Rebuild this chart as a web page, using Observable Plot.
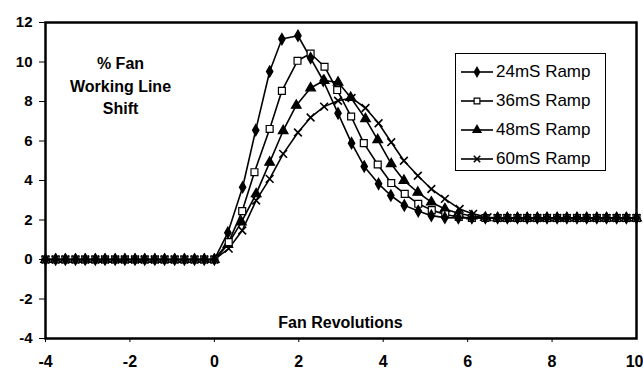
<!DOCTYPE html>
<html>
<head>
<meta charset="utf-8">
<script src="https://cdn.jsdelivr.net/npm/d3@7"></script>
<script src="https://cdn.jsdelivr.net/npm/@observablehq/plot@0.6"></script>
<style>
  body { margin: 0; background: #fff; }
  #wrap { position: relative; width: 643px; height: 380px; font-family: "Liberation Sans", Arial, sans-serif; }
  #legend { position: absolute; left: 455px; top: 53px; width: 151px; height: 118px; border: 1px solid #000; background: #fff; box-sizing: border-box; padding-top: 4px; }
  .row { display: flex; align-items: center; height: 28.8px; font-size: 17px; color: #000; }
  .row svg { margin-left: 4px; margin-right: 2px; }
</style>
</head>
<body>
<div id="wrap"></div>
<script>
// Pre-ramp points (shared by all series)
const preX = [-4, -3.76, -3.53, -3.29, -3.06, -2.82, -2.59, -2.35, -2.12, -1.88, -1.65, -1.41, -1.18, -0.94, -0.71, -0.47, -0.24];
const preY = [0, 0, 0, 0, 0, 0, 0, 0, 0, 0, 0, 0, 0, 0, 0, 0, 0];

// Settled tail (shared)
const tailX = [6.71, 6.94, 7.18, 7.41, 7.65, 7.88, 8.12, 8.35, 8.59, 8.82, 9.06, 9.29, 9.53, 9.76, 10];
const tailY = [2.1, 2.1, 2.1, 2.1, 2.1, 2.1, 2.1, 2.1, 2.1, 2.1, 2.1, 2.1, 2.1, 2.1, 2.1];

// 24mS Ramp
const x24 = [0, 0.32, 0.67, 0.98, 1.31, 1.6, 1.98, 2.28, 2.58, 2.93, 3.25, 3.55, 3.89, 4.18, 4.5, 4.83, 5.14, 5.46, 5.78, 6.1, 6.42];
const y24 = [0, 1.36, 3.66, 6.55, 9.52, 11.16, 11.33, 10.2, 9.05, 7.4, 5.89, 4.71, 3.83, 3.24, 2.74, 2.45, 2.22, 2.12, 2.1, 2.1, 2.1];
// 36mS Ramp
const x36 = [0, 0.34, 0.66, 0.95, 1.31, 1.6, 1.97, 2.28, 2.61, 2.91, 3.24, 3.54, 3.87, 4.19, 4.51, 4.83, 5.15, 5.47, 5.79, 6.1, 6.42];
const y36 = [0, 0.88, 2.45, 4.42, 6.61, 8.54, 10.06, 10.43, 9.76, 8.58, 7.24, 5.89, 4.81, 3.87, 3.32, 2.82, 2.5, 2.28, 2.15, 2.1, 2.1];
// 48mS Ramp
const x48 = [0, 0.32, 0.64, 0.99, 1.31, 1.63, 1.94, 2.28, 2.6, 2.93, 3.23, 3.58, 3.87, 4.19, 4.49, 4.82, 5.14, 5.46, 5.78, 6.1, 6.42];
const y48 = [0, 0.75, 1.89, 3.32, 4.92, 6.52, 7.8, 8.68, 9.06, 8.97, 8.2, 7.12, 6.06, 4.84, 4.0, 3.4, 2.9, 2.56, 2.34, 2.2, 2.12];
// 60mS Ramp
const x60 = [0, 0.34, 0.66, 0.99, 1.31, 1.63, 1.98, 2.28, 2.6, 2.93, 3.25, 3.58, 3.89, 4.19, 4.49, 4.82, 5.14, 5.46, 5.81, 6.13, 6.47];
const y60 = [0, 0.55, 1.47, 2.99, 4.08, 5.35, 6.43, 7.19, 7.74, 8.04, 8.18, 7.67, 6.9, 5.94, 5.0, 4.24, 3.57, 3.07, 2.56, 2.31, 2.14];

const seriesNames = ["24mS Ramp", "36mS Ramp", "48mS Ramp", "60mS Ramp"];
const xTicks = [-4, -2, 0, 2, 4, 6, 8, 10];
const yTicks = [-4, -2, 0, 2, 4, 6, 8, 10, 12];
const yLabel = "% Fan\nWorking Line\nShift";
const xLabel = "Fan Revolutions";

const symbols = {
  "24mS Ramp": {symbol: "diamond", fill: "black", r: 3.4},
  "36mS Ramp": {symbol: "square", fill: "white", r: 3.9},
  "48mS Ramp": {symbol: "triangle", fill: "black", r: 3.6},
  "60mS Ramp": {symbol: "times", fill: "none", r: 3.6}
};

const raw = [[x24, y24], [x36, y36], [x48, y48], [x60, y60]];
const data = [];
raw.forEach(([xs, ys], i) => {
  const s = seriesNames[i];
  preX.forEach((x, j) => data.push({series: s, x, y: preY[j]}));
  xs.forEach((x, j) => data.push({series: s, x, y: ys[j]}));
  tailX.forEach((x, j) => data.push({series: s, x, y: tailY[j]}));
});

const font = "'Liberation Sans', Arial, sans-serif";
const lastTick = xTicks[xTicks.length - 1];
const marks = [
  Plot.frame({stroke: "black", strokeWidth: 2.5}),
  Plot.axisY({ticks: yTicks, tickSize: 6, tickPadding: 7, tickFormat: d => String(d), fontSize: 15, fontWeight: "bold", label: null}),
  Plot.axisX({ticks: xTicks.slice(0, -1), tickSize: 4, tickPadding: 13, tickFormat: d => String(d), fontSize: 16, fontWeight: "bold", label: null}),
  Plot.axisX({ticks: [lastTick], tickSize: 4, tickPadding: 13, tickFormat: d => String(d), fontSize: 16, fontWeight: "bold", label: null, textAnchor: "end", dx: 7}),
  Plot.line(data, {x: "x", y: "y", z: "series", stroke: "black", strokeWidth: 1.6})
];
seriesNames.slice().reverse().forEach(s => {
  const sy = symbols[s];
  marks.push(Plot.dot(data.filter(d => d.series === s), {
    x: "x", y: "y", symbol: sy.symbol, r: sy.r,
    fill: sy.fill, stroke: "black", strokeWidth: sy.symbol === "times" ? 1.6 : 1.2
  }));
});
marks.push(Plot.text([yLabel], {frameAnchor: "top-left", dx: 75, dy: 62, text: d => d, textAnchor: "middle", lineAnchor: "middle", lineHeight: 1.4, fontSize: 16, fontWeight: "bold", fill: "black"}));
marks.push(Plot.text([xLabel], {frameAnchor: "bottom-left", dx: 295, dy: -16, text: d => d, textAnchor: "middle", lineAnchor: "middle", fontSize: 16, fontWeight: "bold", fill: "black"}));

const chart = Plot.plot({
  width: 643,
  height: 380,
  marginLeft: 45,
  marginRight: 7,
  marginTop: 22,
  marginBottom: 42,
  style: {fontFamily: font, color: "black", background: "white"},
  x: {domain: [-4, 10]},
  y: {domain: [-4, 12]},
  marks
});
const wrap = document.getElementById("wrap");
wrap.appendChild(chart);

// Legend
const legend = document.createElement("div");
legend.id = "legend";
const typeMap = {diamond: d3.symbolDiamond, square: d3.symbolSquare, triangle: d3.symbolTriangle, times: d3.symbolTimes};
seriesNames.forEach(s => {
  const sy = symbols[s];
  const row = document.createElement("div");
  row.className = "row";
  const svg = d3.create("svg").attr("width", 34).attr("height", 14);
  svg.append("line").attr("x1", 1).attr("x2", 33).attr("y1", 7).attr("y2", 7).attr("stroke", "black").attr("stroke-width", 1.6);
  const size = Math.PI * sy.r * sy.r * 0.7;
  svg.append("path").attr("transform", "translate(17,7)").attr("d", d3.symbol(typeMap[sy.symbol], size)())
    .attr("fill", sy.fill).attr("stroke", "black").attr("stroke-width", sy.symbol === "times" ? 1.6 : 1.2);
  row.appendChild(svg.node());
  const span = document.createElement("span");
  span.textContent = s;
  row.appendChild(span);
  legend.appendChild(row);
});
wrap.appendChild(legend);
</script>
</body>
</html>
